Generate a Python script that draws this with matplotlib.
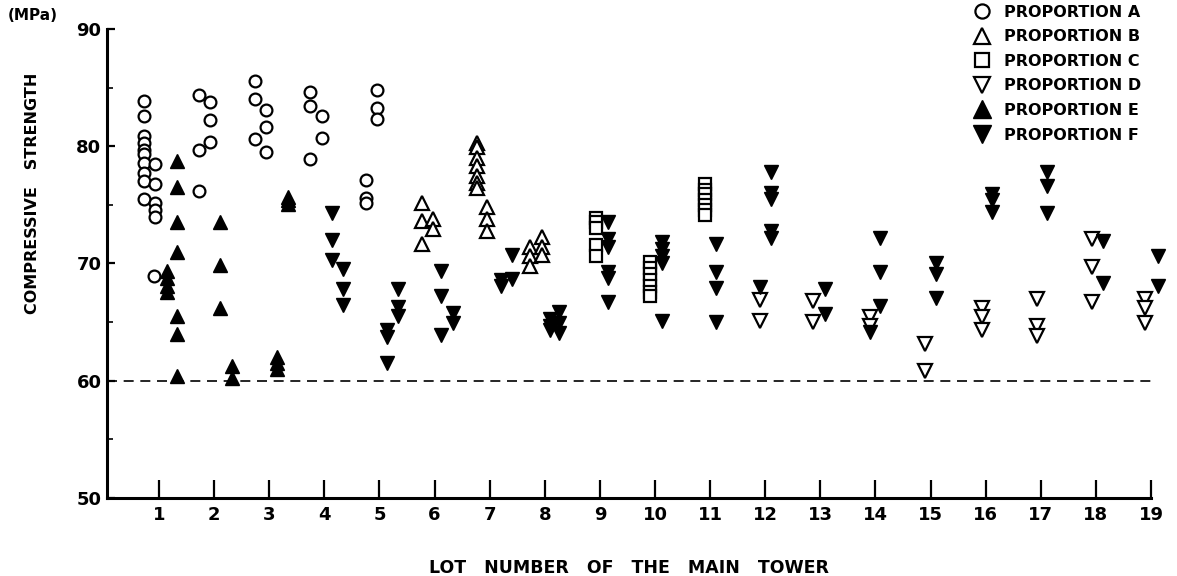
"""Compressive strength of concrete by lot number of the main tower."""
import matplotlib

matplotlib.use("Agg")
import matplotlib.pyplot as plt

# data (x = lot position incl. small offset inside lot)
a_lot = [0.73] * 10 + [0.93] * 5 + [0.90] + [1.72] * 3 + [1.93] * 3 \
    + [2.74] * 3 + [2.94] * 3 + [3.74] * 3 + [3.96] * 2 + [4.96] * 3 + [4.76] * 3
a_val = [83.9, 82.6, 80.9, 80.3, 79.7, 79.3, 78.6, 77.7, 77.0, 75.5,
         78.5, 76.8, 75.2, 74.6, 74.0, 68.9,
         84.4, 79.7, 76.2, 83.8, 82.2, 80.4,
         85.6, 84.0, 80.6, 83.1, 81.6, 79.5,
         84.6, 83.4, 78.9, 82.6, 80.7,
         84.8, 83.3, 82.3, 77.1, 75.6, 75.2]

b_lot = [5.77] * 3 + [5.97] * 2 + [6.77] * 7 + [6.95] * 3 + [7.73] * 3 + [7.95] * 3
b_val = [75.2, 73.6, 71.7, 73.8, 72.9,
         80.3, 79.9, 79.0, 78.3, 77.5, 76.9, 76.4, 74.8, 73.8, 72.8,
         71.4, 70.6, 69.8, 72.3, 71.4, 70.7]

c_lot = [8.93] * 5 + [9.91] * 7 + [10.91] * 7
c_val = [73.9, 73.5, 73.0, 71.6, 70.6,
         70.1, 69.6, 69.1, 68.6, 68.1, 67.6, 67.2,
         76.8, 76.3, 75.9, 75.4, 75.0, 74.6, 74.1]

d_lot = [11.91] * 2 + [12.87] * 2 + [13.90] * 2 + [14.90] * 2 + [15.93] * 3 \
    + [16.93] * 3 + [17.93] * 3 + [18.90] * 3
d_val = [66.9, 65.1, 66.8, 65.0, 65.4, 64.7, 63.1, 60.8,
         66.2, 65.4, 64.3, 67.0, 64.7, 63.8, 72.1, 69.7, 66.7, 67.0, 66.2, 64.9]

e_lot = [1.15] * 4 + [1.33] * 7 + [2.11] * 3 + [2.32] * 2 + [3.34] * 3 + [3.14] * 3
e_val = [69.4, 68.8, 68.1, 67.6, 78.7, 76.5, 73.5, 71.0, 65.5, 64.0, 60.4,
         73.5, 69.9, 66.2, 61.3, 60.2,
         75.7, 75.4, 75.1, 62.0, 61.5, 61.0]

f_lot = [4.14] * 3 + [4.34] * 3 + [5.14] * 3 + [5.33] * 3 + [6.12] * 3 + [6.33] * 2 \
    + [7.2] * 2 + [7.4] * 2 + [8.1] * 3 + [8.25] * 3 + [9.15] * 6 + [10.13] * 5 \
    + [11.11] * 4 + [12.11] * 5 + [11.91] + [13.09] * 2 + [14.09] * 3 + [13.9] \
    + [15.10] * 3 + [16.12] * 3 + [17.12] * 3 + [18.13] * 2 + [19.13] * 2
f_val = [74.3, 72.0, 70.3, 69.5, 67.8, 66.5,
         64.3, 63.7, 61.5, 67.8, 66.3, 65.5,
         69.4, 67.2, 63.9, 65.8, 64.9,
         68.6, 68.1, 70.7, 68.7,
         65.3, 64.7, 64.3, 65.9, 64.9, 64.1,
         73.5, 72.1, 71.4, 69.3, 68.8, 66.7,
         71.8, 71.2, 70.6, 70.0, 65.1,
         71.7, 69.3, 67.9, 65.0,
         77.8, 76.0, 75.5, 72.8, 72.2, 68.0,
         67.8, 65.7,
         72.2, 69.3, 66.4, 64.2,
         70.0, 69.1, 67.1,
         75.9, 75.4, 74.4,
         77.8, 76.6, 74.3,
         71.9, 68.3,
         70.6, 68.1]

lots = list(range(1, 20))
y_ticks = [50, 60, 70, 80, 90]
y_minor = [55, 65, 75, 85]
spec_strength = 60

plt.rcParams["font.family"] = "DejaVu Sans"
plt.rcParams["font.weight"] = "bold"
plt.rcParams["axes.labelweight"] = "bold"

fig = plt.figure(figsize=(11.77, 5.76), dpi=100)
ax = fig.add_axes([107 / 1177, 1 - 498 / 576, (1151 - 107) / 1177, (498 - 29) / 576])

ax.axhline(spec_strength, color="black", linestyle=(0, (6, 4)), linewidth=1.2, zorder=1)

open_kw = dict(linestyle="none", markerfacecolor="white", markeredgecolor="black",
               markeredgewidth=1.6, clip_on=False, zorder=3)
fill_kw = dict(linestyle="none", color="black", clip_on=False, zorder=3)

ax.plot(a_lot, a_val, "o", markersize=8.5, label="PROPORTION A", **open_kw)
ax.plot(b_lot, b_val, "^", markersize=10, label="PROPORTION B", **open_kw)
ax.plot(c_lot, c_val, "s", markersize=8, label="PROPORTION C", **open_kw)
ax.plot(d_lot, d_val, "v", markersize=10, label="PROPORTION D", **open_kw)
ax.plot(e_lot, e_val, "^", markersize=10.5, label="PROPORTION E", **fill_kw)
ax.plot(f_lot, f_val, "v", markersize=10.5, label="PROPORTION F", **fill_kw)

ax.set_xlim(0.056, 19)
ax.set_ylim(50, 90)
ax.set_xticks(lots)
ax.set_xticklabels([str(n) for n in lots])
ax.set_yticks(y_ticks)
ax.set_yticks(y_minor, minor=True)
ax.tick_params(axis="x", direction="in", length=13, width=1.6, labelsize=13, pad=6)
ax.tick_params(axis="y", which="major", direction="in", length=6, width=1.6,
               labelsize=13, pad=4)
ax.tick_params(axis="y", which="minor", direction="in", length=4, width=1.2)
for side in ("top", "right"):
    ax.spines[side].set_visible(False)
for side in ("left", "bottom"):
    ax.spines[side].set_linewidth(2.2)

ax.set_xlabel("LOT   NUMBER   OF   THE   MAIN   TOWER", fontsize=12.5, labelpad=25)
ax.set_ylabel("COMPRESSIVE   STRENGTH", fontsize=11.5)
ax.yaxis.set_label_coords(-0.064, 0.65)
fig.text(8 / 1177, 1 - 16 / 576, "(MPa)", fontsize=11, va="center", ha="left")

leg = ax.legend(loc="upper left", bbox_to_anchor=(974 / 1177, 0.992),
                bbox_transform=fig.transFigure, frameon=False, fontsize=11.5,
                handlelength=1.0, handletextpad=0.9, labelspacing=0.6,
                borderpad=0, borderaxespad=0, markerscale=1.2)

fig.savefig("out.png", dpi=100)
